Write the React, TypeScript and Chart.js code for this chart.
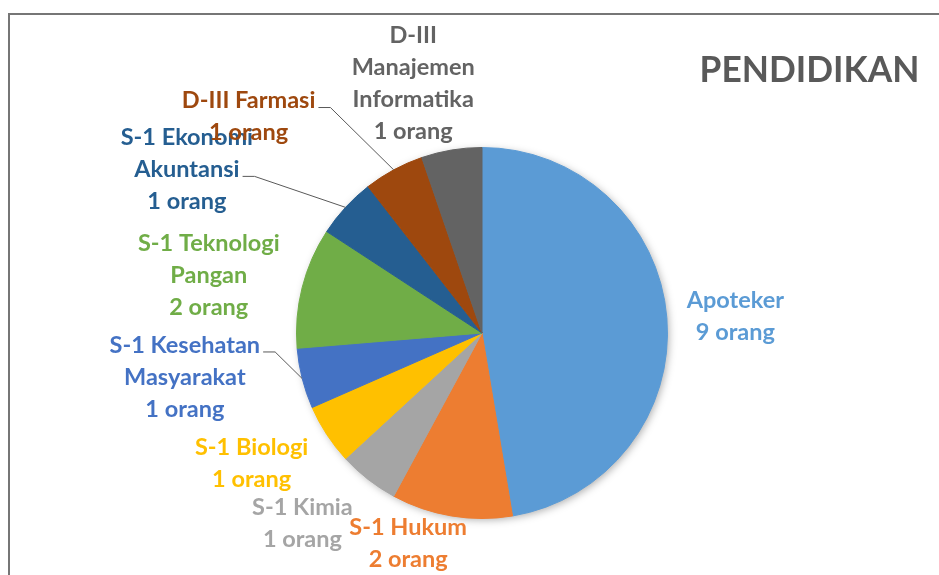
import React, { useEffect, useRef } from "react";
import { Chart, registerables } from "chart.js";

Chart.register(...registerables);

// ---- data ----
const categories: string[][] = [
  ["Apoteker"],
  ["S-1 Hukum"],
  ["S-1 Kimia"],
  ["S-1 Biologi"],
  ["S-1 Kesehatan", "Masyarakat"],
  ["S-1 Teknologi", "Pangan"],
  ["S-1 Ekonomi", "Akuntansi"],
  ["D-III Farmasi"],
  ["D-III", "Manajemen", "Informatika"],
];
const values: number[] = [9, 2, 1, 1, 1, 2, 1, 1, 1];
const unitLabel = "orang";
const titleText = "PENDIDIKAN";

// ---- styles / layout ----
const colors = [
  "#5B9BD5",
  "#ED7D31",
  "#A5A5A5",
  "#FFC000",
  "#4472C4",
  "#70AD47",
  "#255E91",
  "#9E480E",
  "#636363",
];
// label block centres, in units of the pie radius, relative to the pie centre
const labelPos: [number, number][] = [
  [1.366, -0.091],
  [-0.398, 1.134],
  [-0.968, 1.027],
  [-1.242, 0.704],
  [-1.602, 0.237],
  [-1.473, -0.312],
  [-1.591, -0.882],
  [-1.258, -1.167],
  [-0.371, -1.344],
];
// which text line a leader line attaches to (-1 = none)
const leaderLine = [-1, -1, -1, -1, 0, -1, 1, 0, -1];

const FONT = "bold 23.5px Lato";
const LINE_H = 32;

const labelPlugin = {
  id: "pieLabels",
  beforeDatasetsDraw(chart: any) {
    const arc = chart.getDatasetMeta(0).data[0];
    if (!arc) return;
    const { x, y, outerRadius } = arc.getProps(["x", "y", "outerRadius"], true);
    const ctx = chart.ctx;
    ctx.save();
    ctx.shadowColor = "rgba(0,0,0,0.35)";
    ctx.shadowBlur = 8;
    ctx.shadowOffsetX = 2;
    ctx.shadowOffsetY = 2;
    ctx.beginPath();
    ctx.arc(x, y, outerRadius - 1, 0, Math.PI * 2);
    ctx.fillStyle = "#ffffff";
    ctx.fill();
    ctx.restore();
  },
  afterDatasetsDraw(chart: any) {
    const ctx = chart.ctx;
    const meta = chart.getDatasetMeta(0);
    ctx.save();
    ctx.font = FONT;
    ctx.textAlign = "center";
    ctx.textBaseline = "middle";
    meta.data.forEach((arc: any, i: number) => {
      const { x, y, startAngle, endAngle, outerRadius } = arc.getProps(
        ["x", "y", "startAngle", "endAngle", "outerRadius"],
        true
      );
      const mid = (startAngle + endAngle) / 2;
      const px = x + Math.cos(mid) * outerRadius;
      const py = y + Math.sin(mid) * outerRadius;
      const cx = x + labelPos[i][0] * outerRadius;
      const cy = y + labelPos[i][1] * outerRadius;
      const lines = [...categories[i], `${values[i]} ${unitLabel}`];
      const top = cy - ((lines.length - 1) * LINE_H) / 2;
      ctx.fillStyle = colors[i];
      lines.forEach((t, k) => ctx.fillText(t, cx, top + k * LINE_H));
      const li = leaderLine[i];
      if (li >= 0) {
        const w = ctx.measureText(lines[li]).width;
        const sx = cx + w / 2 + 3;
        const sy = top + li * LINE_H + 7;
        ctx.beginPath();
        ctx.strokeStyle = "#595959";
        ctx.lineWidth = 1;
        ctx.moveTo(sx, sy);
        ctx.lineTo(sx + 12, sy);
        ctx.lineTo(px, py);
        ctx.stroke();
      }
    });
    ctx.restore();
  },
  afterDraw(chart: any) {
    const ctx = chart.ctx;
    ctx.save();
    // title
    ctx.font = "bold 35.3px Lato";
    ctx.fillStyle = "#595959";
    ctx.textAlign = "center";
    ctx.textBaseline = "middle";
    ctx.fillText(titleText, 809.5, 71);
    // frame
    ctx.strokeStyle = "#767676";
    ctx.lineWidth = 2;
    ctx.beginPath();
    ctx.moveTo(9, chart.height + 5);
    ctx.lineTo(9, 14);
    ctx.lineTo(chart.width + 5, 14);
    ctx.stroke();
    ctx.restore();
  },
};

export default function App() {
  const ref = useRef<HTMLCanvasElement | null>(null);
  useEffect(() => {
    if (!ref.current) return;
    const chart = new Chart(ref.current, {
      type: "pie",
      data: {
        labels: categories.map((c) => c.join(" ")),
        datasets: [
          {
            data: values,
            backgroundColor: colors,
            borderColor: colors,
            borderWidth: 1,
            hoverOffset: 0,
          },
        ],
      },
      options: {
        animation: false,
        responsive: false,
        maintainAspectRatio: false,
        layout: { padding: { left: 296, right: 271, top: 147, bottom: 56 } },
        plugins: {
          legend: { display: false },
          tooltip: { enabled: false },
          title: { display: false },
        },
      },
      plugins: [labelPlugin],
    });
    return () => chart.destroy();
  }, []);
  return (
    <div style={{ position: "fixed", left: 0, top: 0, width: 939, height: 575, background: "#fff" }}>
      <canvas ref={ref} width={939} height={575} style={{ width: 939, height: 575 }} />
    </div>
  );
}
